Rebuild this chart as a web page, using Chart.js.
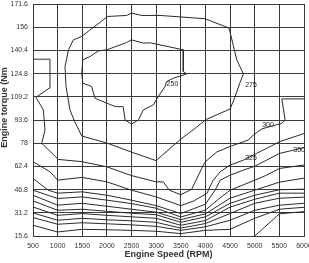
<!DOCTYPE html>
<html><head><meta charset="utf-8">
<script src="https://cdn.jsdelivr.net/npm/chart.js@4/dist/chart.umd.min.js"></script>
<style>html,body{margin:0;padding:0;background:#fff;}#wrap{width:309px;height:263px;}</style>
</head><body><div id="wrap"><canvas id="c" width="309" height="263"></canvas></div>
<script>
// Axis ticks
const rpmTicks = [500,1000,1500,2000,2500,3000,3500,4000,4500,5000,5500,6000];
const torqueTicks = [15.6,31.2,46.8,62.4,78,93.6,109.2,124.8,140.4,156,171.6];
const torqueTickLabels = ['15.6','31.2','46.8','62.4','78','93.6','109.2','124.8','140.4','156','171.6'];

// Contour lines [rpm, torque]
const c250 = [[2500,147.5],[2740,145.3],[2880,145.5],[3550,140.8],[3550,126.2],[3620,124.6],[3350,121.7],[3210,119.4],[3180,116.1],[3040,109.3],[2940,103.7],[2740,100.4],[2640,93.6],[2500,90.9],[2370,93.6],[2330,102.6],[2170,102.6],[2000,104.9],[1760,108.2],[1690,116.1],[1510,118.4],[1490,125.1],[1510,134.1],[1660,136.3],[1830,140.1],[2000,140.8],[2400,145.7],[2500,147.5]];
const c275 = [[2500,165.5],[2710,163.9],[3080,163.9],[3990,161.7],[4480,155.4],[4635,134.1],[4770,124.6],[4700,118.6],[4600,109.1],[4500,101.0],[4010,93.9],[3750,86.9],[3500,80.8],[2997,66.3],[2500,72.0],[2000,78.1],[1490,82.8],[1350,92.3],[1250,100.4],[1170,116.1],[1150,129.5],[1220,140.8],[1320,147.5],[1490,149.8],[1660,154.3],[1860,159.2],[2010,163.2],[2400,163.9],[2500,165.5]];
const c300 = [[6000,107.8],[5550,107.8],[5616,93.6],[5550,91.4],[5143,87.6],[4972,83.5],[4865,80.1],[4500,75.8],[4230,72.1],[3990,65.3],[3925,61.1],[3720,47.0],[3500,43.4],[3267,46.4],[3145,52.0],[3000,52.0],[2500,56.2],[2000,62.1],[1490,65.6],[1014,67.1],[677,77.9],[744,86.9],[709,100.4],[561,108.9],[831,115.0],[845,134.5],[500,134.5]];
const c325 = [[500,65.5],[845,58.8],[1000,53.2],[1500,55.0],[2000,52.0],[2500,46.4],[3000,41.9],[3500,36.0],[3750,39.0],[4030,44.2],[4090,48.7],[4160,53.2],[4300,58.8],[4500,63.3],[4770,66.6],[5040,71.2],[5240,74.5],[5510,79.1],[6000,84.5]];
const c350 = [[500,54.3],[811,46.4],[1000,44.4],[1500,45.3],[2000,43.0],[2500,39.7],[3000,36.0],[3500,30.7],[4000,37.0],[4195,46.4],[4300,53.1],[4500,56.5],[4770,59.9],[5000,62.5],[5240,66.6],[5500,71.1],[6000,75.0]];
const cL4 = [[500,46.4],[1000,40.8],[1500,41.9],[2000,39.7],[2500,37.4],[3000,34.3],[3500,28.4],[4000,33.0],[4250,40.0],[4500,46.4],[5000,53.1],[5240,56.5],[5500,61.0],[6000,63.3]];
const cL5 = [[500,43.0],[1000,36.3],[1500,37.6],[2000,35.6],[2500,33.6],[3000,31.6],[3500,26.6],[4000,30.5],[4500,41.0],[5000,46.4],[5500,51.8],[6000,54.5]];
const cL6 = [[500,39.2],[1000,32.9],[1500,33.6],[2000,32.2],[2500,30.9],[3000,29.9],[3500,24.8],[4000,28.5],[4500,37.6],[5000,43.0],[5500,46.7],[6000,47.1]];
const cL7 = [[500,35.1],[1000,29.5],[1500,30.7],[2000,29.5],[2500,28.5],[3000,27.5],[3500,22.8],[4000,26.0],[4500,35.0],[5000,40.3],[5500,44.4],[6000,44.4]];
const cL8 = [[500,31.1],[1000,26.2],[1500,27.5],[2000,26.5],[2500,25.8],[3000,24.8],[3500,20.9],[4000,24.0],[4500,30.7],[5000,37.6],[5500,41.0],[6000,41.7]];
const cL9 = [[500,28.0],[1000,23.5],[1500,24.5],[2000,23.8],[2500,23.1],[3000,22.1],[3500,19.4],[4000,21.8],[4500,26.2],[5000,32.9],[5500,36.3],[6000,37.6]];
const cL10 = [[500,22.8],[1000,18.3],[1500,20.1],[2000,19.8],[2500,19.4],[3000,18.8],[3500,17.2],[4000,19.4],[4500,20.1],[5000,27.5],[5500,33.6],[6000,34.9]];
const cL11 = [[5000,15.6],[5500,30.5],[6000,32.0]];

// Contour labels
const labelTexts = ['250','275','300','325','350'];
const labelRpm = [3330,4925,5270,4925,5900];
const labelTorque = [117.5,117.2,89.9,68.3,73.7];

const contours = [c250,c275,c300,c325,c350,cL4,cL5,cL6,cL7,cL8,cL9,cL10,cL11];

const FONT = "'Liberation Sans', Arial, sans-serif";

const extras = {
  id: 'extras',
  afterDatasetsDraw(chart) {
    const ctx = chart.ctx, xs = chart.scales.x, ys = chart.scales.y;
    ctx.save();
    ctx.fillStyle = '#222';
    ctx.font = '7px ' + FONT;
    ctx.textAlign = 'center';
    ctx.textBaseline = 'middle';
    labelTexts.forEach((t, i) => {
      ctx.fillText(t, xs.getPixelForValue(labelRpm[i]), ys.getPixelForValue(labelTorque[i]));
    });
    ctx.font = 'bold 9px ' + FONT;
    ctx.fillStyle = '#333';
    ctx.fillText('Engine Speed (RPM)', (chart.chartArea.left + chart.chartArea.right) / 2, 255);
    ctx.translate(6.5, 107.5);
    ctx.rotate(-Math.PI / 2);
    ctx.textBaseline = 'alphabetic';
    ctx.fillText('Engine torque (Nm', 0, 0);
    ctx.restore();
  }
};

new Chart(document.getElementById('c'), {
  type: 'scatter',
  data: {
    datasets: contours.map(c => ({
      data: c.map(p => ({x: p[0], y: p[1]})),
      showLine: true,
      borderColor: '#2a2a2a',
      borderWidth: 1,
      pointRadius: 0,
      tension: 0,
      clip: 2
    }))
  },
  options: {
    responsive: false,
    animation: false,
    events: [],
    layout: {padding: {left: 0, right: 5, top: 4, bottom: 0}},
    plugins: {legend: {display: false}, tooltip: {enabled: false}},
    scales: {
      x: {
        type: 'linear', min: 500, max: 6000,
        afterBuildTicks: s => { s.ticks = rpmTicks.map(v => ({value: v})); },
        afterFit: s => { s.height = 27; s.paddingLeft = 0; s.paddingRight = 0; },
        grid: {color: '#3a3a3a', lineWidth: 1, drawTicks: false},
        border: {color: '#3a3a3a'},
        ticks: {color: '#333', font: {size: 7, family: FONT}, padding: 6, maxRotation: 0, autoSkip: false,
          callback: v => String(v)}
      },
      y: {
        type: 'linear', min: 15.6, max: 171.6,
        afterBuildTicks: s => { s.ticks = torqueTicks.map(v => ({value: v})); },
        afterFit: s => { s.width = 33; s.paddingTop = 0; s.paddingBottom = 0; },
        grid: {color: '#3a3a3a', lineWidth: 1, drawTicks: false},
        border: {color: '#3a3a3a'},
        ticks: {color: '#333', font: {size: 7, family: FONT}, padding: 5, autoSkip: false,
          callback: (v, i) => torqueTickLabels[i]}
      }
    }
  },
  plugins: [extras]
});
</script></body></html>
